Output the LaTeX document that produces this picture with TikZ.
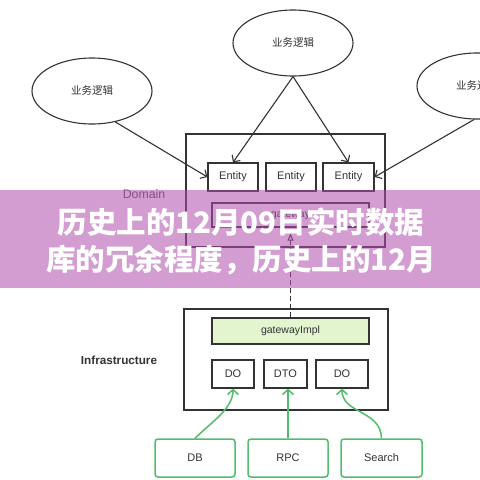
\documentclass[tikz,border=0pt]{standalone}
\usepackage{fontspec}
\setmainfont{Liberation Sans}
\newfontfamily\cjk{Noto Sans CJK SC}
\usetikzlibrary{shapes.geometric,arrows.meta}
\definecolor{ink}{HTML}{333333}
\definecolor{grn}{RGB}{80,188,108}
\definecolor{lgrn}{RGB}{226,245,206}
\definecolor{bann}{RGB}{178,78,172}
\tikzset{
  ell/.style={ellipse,draw=ink,line width=1.1pt,minimum width=120pt,minimum height=66pt,inner sep=0pt,font=\cjk\fontsize{10.5}{12}\selectfont,text=ink},
  box/.style={draw=ink,line width=1.2pt,inner sep=0pt,font=\fontsize{11}{13}\selectfont,text=ink},
  frame/.style={draw=ink,line width=1.2pt,inner sep=0pt},
  gbox/.style={draw=grn,line width=1.5pt,rounded corners=3pt,inner sep=0pt,minimum width=80pt,minimum height=38pt,font=\fontsize{11}{13}\selectfont,text=ink},
  barrow/.style={draw=ink,line width=1.1pt,-{Straight Barb[length=5pt,width=10pt,line width=1.1pt]}},
  garrow/.style={draw=grn,line width=1.5pt,-{Straight Barb[length=5pt,width=11pt,line width=1.5pt]}},
  lbl/.style={text=ink,inner sep=0pt},
}
\begin{document}
\begin{tikzpicture}[x=1pt,y=-1pt]
\useasboundingbox (0,0) rectangle (480,480);
\fill[white] (0,0) rectangle (480,480);
% ellipses
\node[ell] (lell) at (92,91) {业务逻辑};
\node[ell] (tell) at (293,43) {业务逻辑};
\node[ell] (rell) at (477,86) {业务逻辑};
% domain
\node[frame,minimum width=199pt,minimum height=113pt] (dom) at (285.5,190.5) {};
\node[box,minimum width=50pt,minimum height=28pt] (e1) at (233,177) {Entity};
\node[box,minimum width=50pt,minimum height=28pt] (e2) at (291,177) {Entity};
\node[box,minimum width=51pt,minimum height=28pt] (e3) at (348.5,177) {Entity};
\node[box,minimum width=157pt,minimum height=24pt,font=\fontsize{10.5}{12}\selectfont] (gw) at (290.5,215) {gateway};
\node[lbl,font=\fontsize{12.3}{14}\selectfont,text=ink!85] (domlbl) at (144,194) {Domain};
% arrows from ellipses
\draw[barrow] (lell.-53) -- (e1.west);
\draw[barrow] (tell.south) -- (e1.north);
\draw[barrow] (tell.south) -- (e3.north);
\draw[barrow] (rell.-95) -- (e3.east);
% infrastructure
\node[frame,minimum width=204pt,minimum height=101pt] (inf) at (286,359.5) {};
\node[box,fill=lgrn,minimum width=157pt,minimum height=26pt,font=\fontsize{10.5}{12}\selectfont] (gwi) at (290.5,331) {gatewayImpl};
\node[box,minimum width=42pt,minimum height=28pt] (do1) at (233,374) {DO};
\node[box,minimum width=43pt,minimum height=28pt] (dto) at (285.5,374) {DTO};
\node[box,minimum width=52pt,minimum height=28pt] (do2) at (342,374) {DO};
\node[lbl,font=\bfseries\fontsize{11.7}{14}\selectfont] (inflbl) at (119,360) {Infrastructure};
\draw[ink,line width=1.5pt,dash pattern=on 5pt off 3pt,shorten >=6pt,-{Triangle[open,length=7pt,width=6pt,line width=1pt]}] (gwi.north) -- (gw.south);
% sources
\node[gbox] (db) at (195,458) {DB};
\node[gbox] (rpc) at (288,458) {RPC};
\node[gbox,minimum width=81pt] (srch) at (381.5,458) {Search};
\draw[garrow] (db.north) .. controls (214,420) and (233,408) .. (do1.south);
\draw[garrow] (rpc.north) -- (rpc.north |- dto.south);
\draw[garrow] (srch.north) .. controls (381,410) and (342,414) .. (do2.south);
% banner
\fill[bann,fill opacity=0.55] (0,190) rectangle (480,288);
\node[text=white,font=\cjk\bfseries\fontsize{29.5}{36}\selectfont,inner sep=0pt] (t1) at (241,222) {历史上的12月09日实时数据};
\node[text=white,font=\cjk\bfseries\fontsize{29.5}{36}\selectfont,inner sep=0pt] (t2) at (241,260) {库的冗余程度，历史上的12月};
\end{tikzpicture}
\end{document}
